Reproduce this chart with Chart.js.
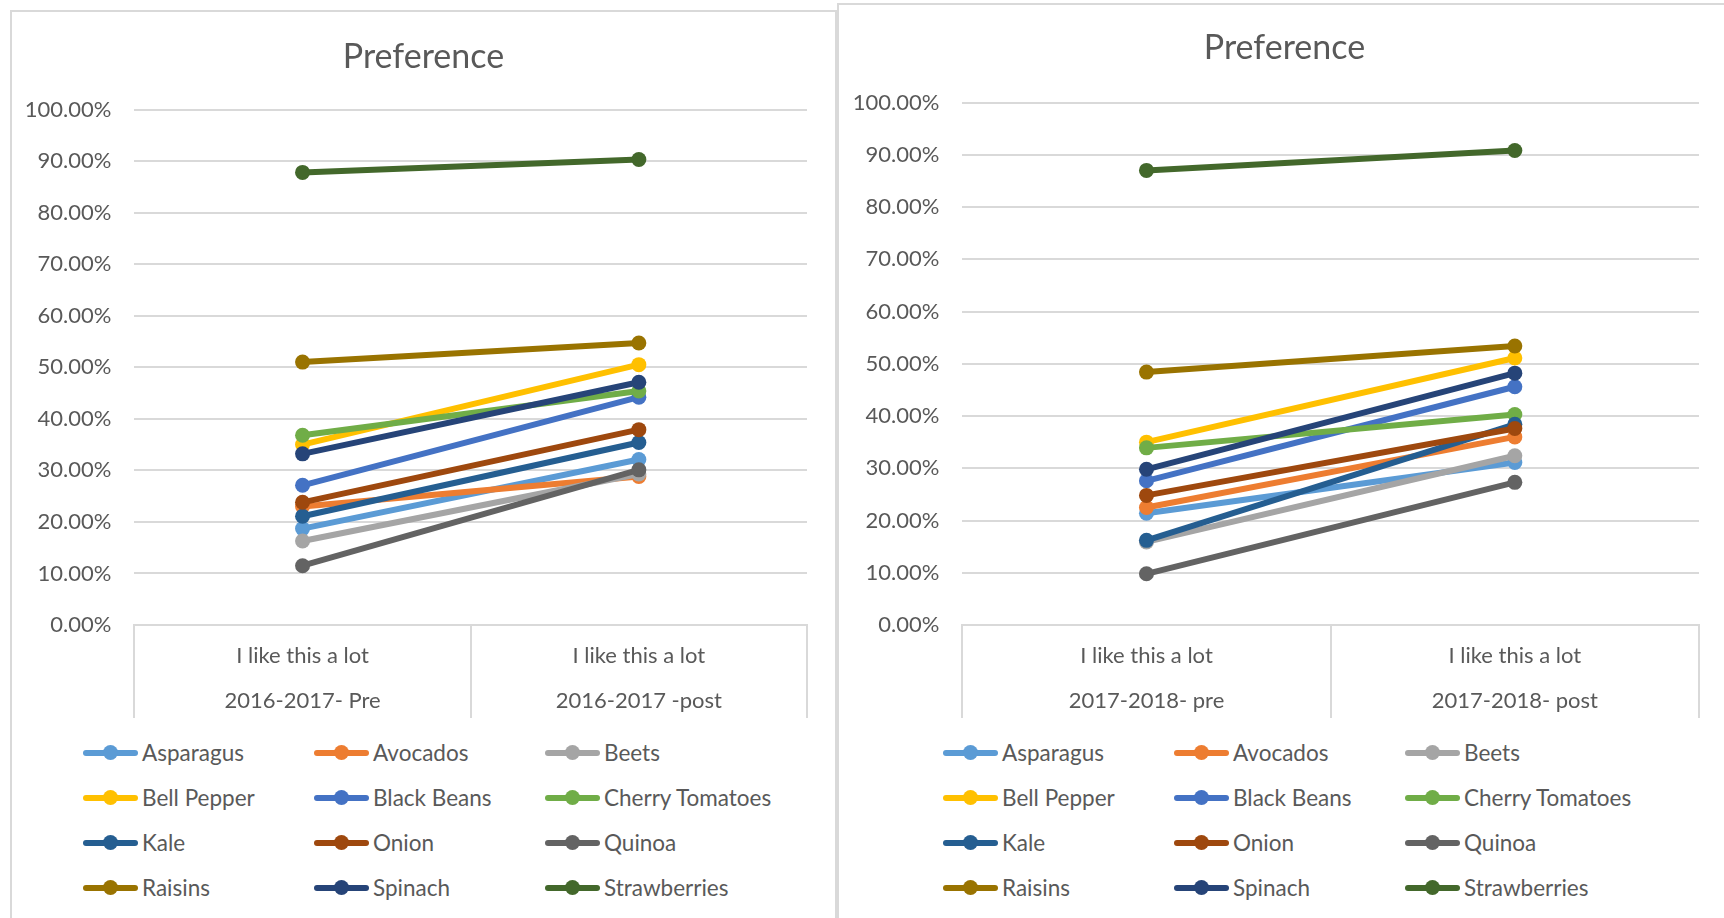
<!DOCTYPE html>
<html>
<head>
<meta charset="utf-8">
<title>Preference</title>
<script src="https://cdn.jsdelivr.net/npm/chart.js@4.4.1/dist/chart.umd.min.js"></script>
<style>
  html, body { margin: 0; padding: 0; background: #fff; width: 1724px; height: 918px; overflow: hidden; font-family: Lato, sans-serif; }
  .panel { position: absolute; box-sizing: border-box; border: 2px solid #d9d9d9; background: #fff; }
  .chart-box { position: absolute; left: 0; top: 0; }
  .chart-title { position: absolute; height: 40px; line-height: 40px; text-align: center; font-size: 34px; color: #595959; }
  .legend { position: absolute; display: grid; grid-template-columns: repeat(3, 231px); grid-auto-rows: 45px; }
  .legend-item { display: flex; align-items: center; font-size: 22.5px; color: #595959; white-space: nowrap; }
  .swatch { position: relative; width: 55px; height: 6px; border-radius: 3px; margin-right: 4px; flex: none; }
  .swatch::after { content: ''; position: absolute; left: 50%; top: 50%; width: 15px; height: 15px; margin: -7.5px 0 0 -7.5px; border-radius: 50%; background: inherit; }
</style>
</head>
<body>

<div class="panel" style="left:10px; top:10px; width:827px; height:920px;">
  <div class="chart-box" style="width:823px; height:708px;"><canvas id="chartA"></canvas></div>
</div>
<div class="chart-title" style="left:12px; width:823px; top:35px;">Preference</div>
<div class="legend" id="legendA" style="left:83px; top:730px;"></div>

<div class="panel" style="left:837px; top:3px; width:895px; height:930px;">
  <div class="chart-box" style="width:891px; height:715px;"><canvas id="chartB"></canvas></div>
</div>
<div class="chart-title" style="left:839px; width:891px; top:26px;">Preference</div>
<div class="legend" id="legendB" style="left:943px; top:730px;"></div>

<script>
// foods surveyed, in legend order
const foods = ['Asparagus', 'Avocados', 'Beets', 'Bell Pepper', 'Black Beans', 'Cherry Tomatoes',
               'Kale', 'Onion', 'Quinoa', 'Raisins', 'Spinach', 'Strawberries'];
const foodColors = ['#5B9BD5', '#ED7D31', '#A5A5A5', '#FFC000', '#4472C4', '#70AD47',
                    '#255E91', '#9E480E', '#636363', '#997300', '#264478', '#43682B'];

// "I like this a lot" share, percent
const labels1617 = [['I like this a lot', '2016-2017- Pre'], ['I like this a lot', '2016-2017 -post']];
const pre1617  = [18.7, 23.0, 16.3, 35.0, 27.1, 36.8, 21.1, 23.8, 11.5, 51.0, 33.2, 87.8];
const post1617 = [32.1, 28.8, 29.3, 50.5, 44.2, 45.4, 35.4, 37.9, 30.1, 54.7, 47.1, 90.3];

const labels1718 = [['I like this a lot', '2017-2018- pre'], ['I like this a lot', '2017-2018- post']];
const pre1718  = [21.4, 22.5, 15.9, 35.0, 27.6, 33.9, 16.2, 24.8, 9.8, 48.4, 29.8, 87.0];
const post1718 = [31.1, 36.0, 32.4, 51.1, 45.6, 40.3, 38.4, 37.6, 27.3, 53.4, 48.2, 90.8];

const yMax = 100;
const yStep = 10;

Chart.defaults.font.family = 'Lato, sans-serif';
Chart.defaults.color = '#595959';

function buildChart(canvasId, labels, pre, post, g) {
  const datasets = foods.map((name, i) => ({
    label: name,
    data: [pre[i], post[i]],
    borderColor: foodColors[i],
    backgroundColor: foodColors[i],
    pointBackgroundColor: foodColors[i],
    borderWidth: 6,
    pointRadius: 7.5,
    pointHoverRadius: 7.5,
    pointBorderWidth: 0,
    order: foods.length - i   // later series sit on top
  }));

  return new Chart(document.getElementById(canvasId), {
    type: 'line',
    data: { labels: labels, datasets: datasets },
    options: {
      responsive: true,
      maintainAspectRatio: false,
      animation: false,
      layout: { padding: { left: 0, right: g.padRight, top: g.padTop, bottom: 0 } },
      plugins: {
        legend: { display: false },
        tooltip: { enabled: false },
        title: { display: false }
      },
      scales: {
        x: {
          offset: true,
          afterFit: s => { s.height = 95; },
          border: { display: true, color: '#d9d9d9', width: 2 },
          grid: { offset: true, drawOnChartArea: false, drawTicks: true, tickLength: 93, color: '#d9d9d9', lineWidth: 2 },
          ticks: { font: { size: 22, lineHeight: 2.07 }, color: '#595959', padding: -85, maxRotation: 0 }
        },
        y: {
          min: 0,
          max: yMax,
          afterFit: s => { s.width = g.yWidth; },
          border: { display: false },
          grid: { color: '#d9d9d9', lineWidth: 2, drawTicks: false },
          ticks: {
            stepSize: yStep,
            padding: 23,
            font: { size: 22 },
            color: '#595959',
            callback: v => v.toFixed(2) + '%'
          }
        }
      }
    }
  });
}

function buildLegend(id) {
  const box = document.getElementById(id);
  foods.forEach((name, i) => {
    const item = document.createElement('div');
    item.className = 'legend-item';
    const sw = document.createElement('span');
    sw.className = 'swatch';
    sw.style.background = foodColors[i];
    item.appendChild(sw);
    item.appendChild(document.createTextNode(name));
    box.appendChild(item);
  });
}

buildChart('chartA', labels1617, pre1617, post1617, { padRight: 28, padTop: 97.5, yWidth: 122.4 });
buildChart('chartB', labels1718, pre1718, post1718, { padRight: 31, padTop: 97.5, yWidth: 123.3 });
buildLegend('legendA');
buildLegend('legendB');
</script>
</body>
</html>
